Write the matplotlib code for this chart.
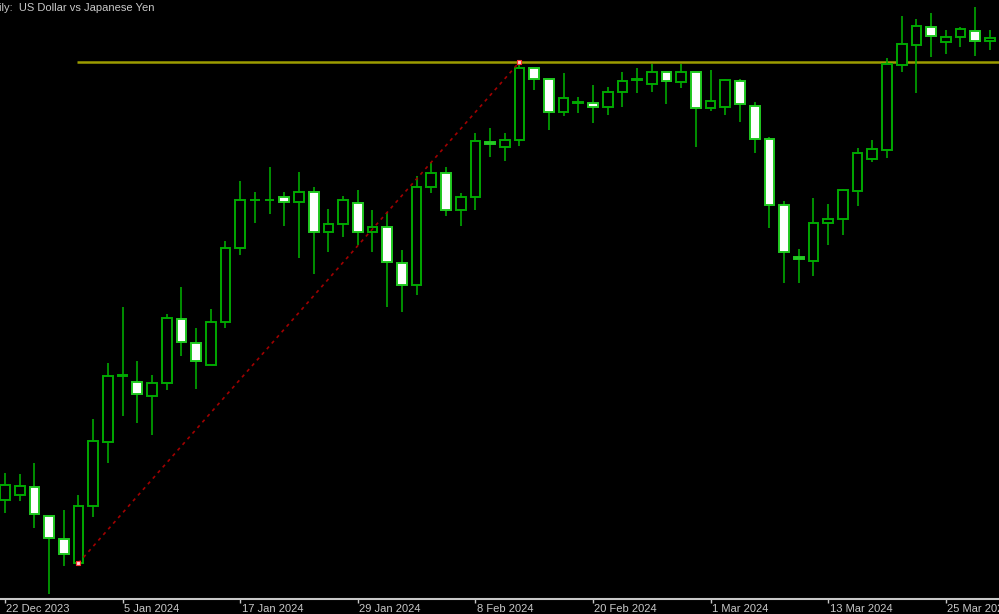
import numpy as np
import matplotlib.pyplot as plt
from matplotlib import transforms

# daily USDJPY bars, 22 Dec 2023 .. 28 Mar 2024 (+ clipped last bar)
opens = [142.12, 142.22, 142.38, 141.80, 141.34, 140.86, 142.00, 143.28, 144.60, 144.48,
         144.20, 144.46, 145.74, 145.26, 144.82, 145.68, 147.16, 148.12, 148.12, 148.18,
         148.08, 148.28, 147.48, 147.64, 148.06, 147.48, 147.58, 146.86, 146.42, 148.38,
         148.66, 147.92, 148.18, 149.28, 149.18, 149.32, 150.76, 150.54, 149.88, 150.06,
         150.06, 149.98, 150.28, 150.52, 150.44, 150.68, 150.48, 150.68, 149.96, 149.98,
         150.50, 150.00, 149.34, 148.02, 146.98, 146.90, 147.66, 147.74, 148.30, 148.94,
         149.12, 150.82, 151.22, 151.58, 151.28, 151.38, 151.50, 151.30, 151.34]
highs = [142.66, 142.64, 142.86, 141.80, 141.92, 142.22, 143.74, 144.86, 145.98, 144.90,
         144.62, 145.84, 146.38, 145.56, 145.94, 147.30, 148.50, 148.28, 148.78, 148.28,
         148.68, 148.38, 147.94, 148.20, 148.32, 147.92, 147.88, 147.12, 148.60, 148.88,
         148.78, 148.26, 149.46, 149.56, 149.46, 150.88, 150.76, 150.54, 150.66, 150.18,
         150.42, 150.38, 150.68, 150.76, 150.84, 150.68, 150.84, 150.68, 150.72, 150.54,
         150.54, 150.08, 149.38, 148.10, 147.14, 148.16, 148.04, 148.34, 149.16, 149.32,
         150.96, 151.80, 151.74, 151.86, 151.52, 151.58, 151.98, 151.52, 151.42]
lows = [141.86, 142.10, 141.56, 140.24, 140.80, 140.86, 141.78, 142.86, 143.80, 143.66,
        143.42, 144.32, 145.00, 144.34, 144.82, 145.56, 147.02, 147.66, 147.84, 147.60,
        146.96, 146.64, 147.08, 147.38, 147.22, 147.08, 145.98, 145.88, 146.22, 148.26,
        147.80, 147.60, 147.92, 148.98, 148.90, 149.20, 150.32, 149.52, 149.80, 149.86,
        149.66, 149.82, 149.98, 150.26, 150.28, 150.04, 150.36, 149.18, 149.90, 149.82,
        149.68, 149.06, 147.56, 146.46, 146.46, 146.60, 147.22, 147.42, 148.00, 148.88,
        148.96, 150.68, 150.26, 150.98, 151.04, 151.18, 151.00, 151.12, 151.26]
closes = [142.42, 142.40, 141.84, 141.36, 141.04, 142.00, 143.30, 144.60, 144.61, 144.24,
          144.46, 145.76, 145.28, 144.90, 145.68, 147.16, 148.12, 148.13, 148.13, 148.08,
          148.28, 147.48, 147.64, 148.12, 147.48, 147.58, 146.88, 146.42, 148.38, 148.66,
          147.92, 148.18, 149.30, 149.24, 149.32, 150.76, 150.54, 149.88, 150.16, 150.08,
          149.98, 150.28, 150.50, 150.54, 150.68, 150.50, 150.68, 149.96, 150.10, 150.52,
          150.04, 149.34, 148.02, 147.08, 146.94, 147.66, 147.74, 148.32, 149.06, 149.14,
          150.84, 151.24, 151.60, 151.40, 151.38, 151.54, 151.30, 151.36, 151.34]

tick_idx = [0, 8, 16, 24, 32, 40, 48, 56, 64]
tick_labels = ["22 Dec 2023", "5 Jan 2024", "17 Jan 2024", "29 Jan 2024", "8 Feb 2024",
               "20 Feb 2024", "1 Mar 2024", "13 Mar 2024", "25 Mar 2024"]

# trend line from the swing low to the swing high, plus resistance level
swing_low_idx, swing_high_idx = 5, 35
resistance = 150.88

o = np.array(opens)
h = np.array(highs)
l = np.array(lows)
c = np.array(closes)
x = np.arange(len(o))
up = c >= o

green = '#00a800'
fig = plt.figure(figsize=(9.99, 6.14), dpi=100, facecolor='black')
ax = fig.add_axes([0, 15 / 614, 1, 599 / 614], facecolor='black')

ax.vlines(x, l, h, color=green, linewidth=1.2, zorder=2)
ax.bar(x[up], (c - o)[up], bottom=o[up], width=0.66, facecolor='black',
       edgecolor=green, linewidth=1.4, zorder=3)
ax.bar(x[~up], (o - c)[~up], bottom=c[~up], width=0.66, facecolor='white',
       edgecolor='#20c820', linewidth=1.4, zorder=3)

ax.hlines(resistance, swing_low_idx - 0.1, len(o) + 2, color='#9c9c00', linewidth=1.8, zorder=1)
ax.plot([swing_low_idx, swing_high_idx], [l[swing_low_idx], h[swing_high_idx]],
        color='#a00000', linewidth=1.2, linestyle=(0, (2, 2.5)), zorder=4)
ax.plot([swing_low_idx, swing_high_idx], [l[swing_low_idx], h[swing_high_idx]],
        linestyle='none', marker='s', markersize=3.5, markerfacecolor='#ffd0d0',
        markeredgecolor='#ff3030', markeredgewidth=0.8, zorder=5)

ax.set_xlim(-0.34, 67.62)
ax.set_ylim(140.14, 152.12)

for s in ['top', 'left', 'right']:
    ax.spines[s].set_visible(False)
ax.spines['bottom'].set_color('#c8c8c8')
ax.spines['bottom'].set_linewidth(1.5)
ax.set_yticks([])
ax.set_xticks(tick_idx)
ax.set_xticklabels(tick_labels, ha='left', fontfamily='Liberation Sans', fontsize=8)
ax.tick_params(axis='x', direction='out', length=3, width=1, colors='#c8c8c8', pad=0.5)
shift = transforms.ScaledTranslation(1.5 / 100, 0, fig.dpi_scale_trans)
for lab in ax.get_xticklabels():
    lab.set_transform(lab.get_transform() + shift)

ax.text(-0.4, 151.96, "ily:  US Dollar vs Japanese Yen", color='#c8c8c8', fontsize=8,
        fontfamily='Liberation Sans', ha='left', va='center', zorder=6)

fig.savefig('out.png', dpi=100, facecolor='black')
